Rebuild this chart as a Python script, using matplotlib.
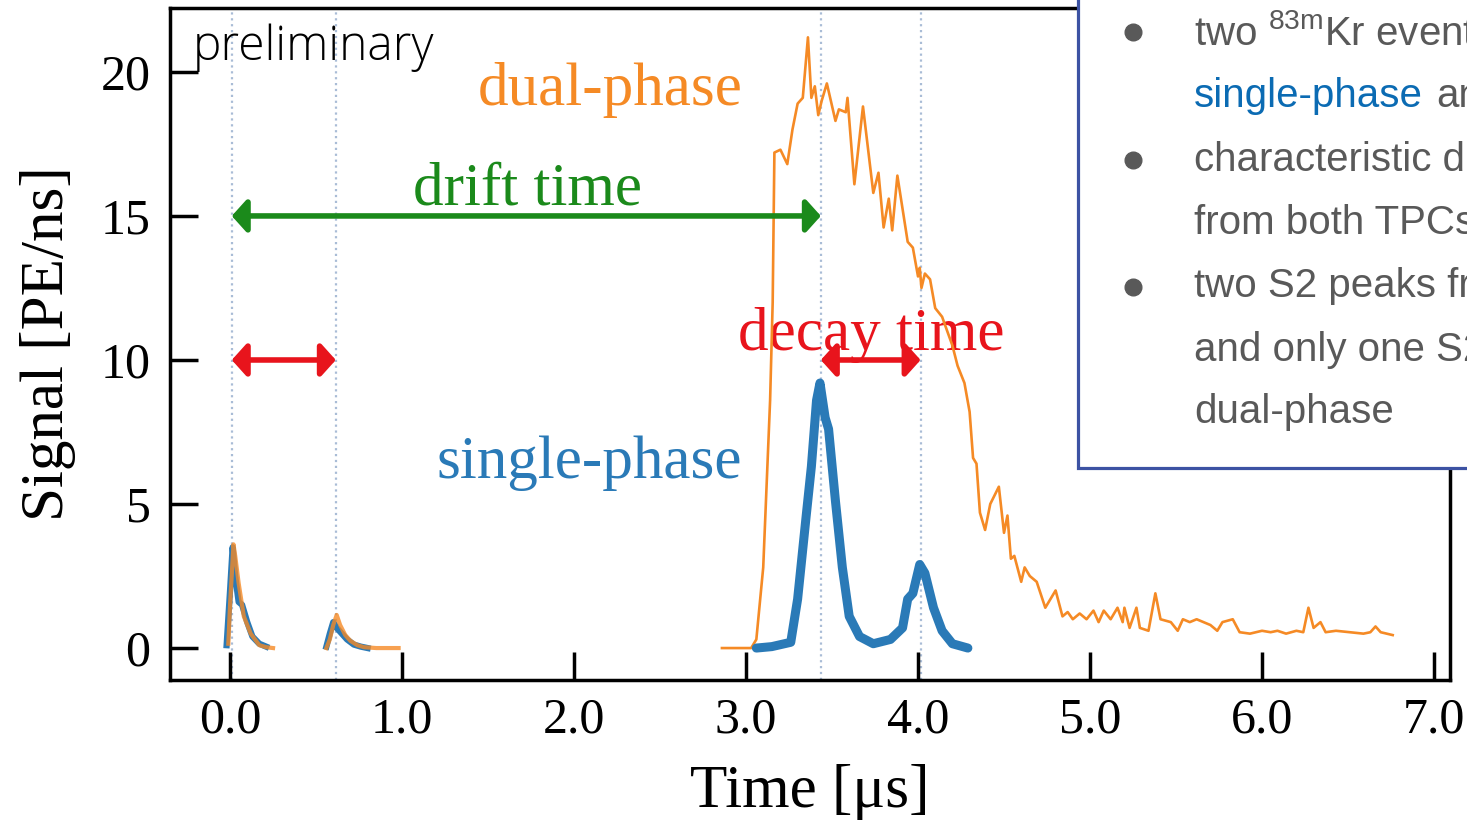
import numpy as np
import matplotlib
matplotlib.use("Agg")
import matplotlib.pyplot as plt
from matplotlib.patches import Rectangle
from matplotlib.lines import Line2D
from matplotlib.ticker import FormatStrFormatter

plt.rcParams['font.family'] = ['Liberation Serif', 'DejaVu Serif']

nan = np.nan

# S1 pulses (both detectors)
s1_blue_t = [-0.02, 0.0, 0.015, 0.03, 0.05, 0.07, 0.10, 0.13, 0.17, 0.21, nan,
             0.56, 0.58, 0.60, 0.62, 0.65, 0.68, 0.72, 0.76, 0.80]
s1_blue_v = [0.1, 2.0, 3.5, 2.5, 1.6, 1.5, 0.9, 0.4, 0.15, 0.05, nan,
             0.05, 0.5, 0.9, 0.7, 0.5, 0.3, 0.12, 0.05, 0.0]
s1_orange_t = [-0.01, 0.0, 0.02, 0.03, 0.05, 0.08, 0.12, 0.17, 0.21, 0.25, nan,
               0.56, 0.58, 0.60, 0.62, 0.64, 0.67, 0.70, 0.74, 0.78, 0.85, 0.98]
s1_orange_v = [0.15, 1.5, 3.6, 3.2, 2.25, 1.1, 0.5, 0.1, 0.03, 0.0, nan,
               0.0, 0.3, 0.8, 1.15, 0.8, 0.45, 0.25, 0.1, 0.03, 0.0, 0.0]

# S2 of single-phase TPC
s2_single_t = [3.06, 3.15, 3.26, 3.30, 3.35, 3.38, 3.41, 3.43, 3.46, 3.48, 3.52, 3.56, 3.60,
               3.66, 3.74, 3.84, 3.91, 3.94, 3.97, 4.01, 4.04, 4.09, 4.14, 4.20, 4.29]
s2_single_v = [0.0, 0.05, 0.2, 1.7, 4.6, 6.3, 8.6, 9.2, 8.0, 7.6, 5.1, 2.8, 1.1,
               0.4, 0.15, 0.3, 0.7, 1.7, 1.9, 2.9, 2.6, 1.4, 0.6, 0.15, 0.0]

# S2 of dual-phase TPC
s2_dual_t = [2.86, 3.03, 3.06, 3.10, 3.14, 3.155, 3.165, 3.20, 3.24, 3.27, 3.30, 3.33, 3.36,
             3.38, 3.40, 3.42, 3.44, 3.47, 3.52, 3.54, 3.58, 3.59, 3.63, 3.68, 3.74, 3.77,
             3.80, 3.83, 3.85, 3.88, 3.94, 3.97, 4.00, 4.01, 4.02, 4.04, 4.07, 4.10, 4.14,
             4.20, 4.23, 4.27, 4.30, 4.32, 4.34, 4.36, 4.39, 4.42, 4.47, 4.50, 4.52, 4.54,
             4.56, 4.60, 4.62, 4.65, 4.69, 4.74, 4.80, 4.84, 4.87, 4.90, 4.94, 4.98, 5.02,
             5.05, 5.08, 5.12, 5.16, 5.19, 5.20, 5.23, 5.27, 5.29, 5.34, 5.38, 5.41, 5.47,
             5.51, 5.54, 5.58, 5.62, 5.66, 5.70, 5.74, 5.77, 5.83, 5.87, 5.93, 6.00, 6.05,
             6.09, 6.14, 6.20, 6.24, 6.27, 6.30, 6.34, 6.37, 6.43, 6.51, 6.59, 6.63, 6.66,
             6.69, 6.76]
s2_dual_v = [0.0, 0.0, 0.3, 2.8, 8.6, 12.0, 17.2, 17.3, 16.8, 18.0, 18.9, 19.1, 21.2,
             19.1, 19.5, 18.5, 19.0, 19.6, 18.3, 18.7, 18.6, 19.1, 16.1, 18.8, 15.8, 16.5,
             14.6, 15.6, 14.5, 16.4, 14.1, 13.9, 12.9, 13.2, 12.5, 13.0, 12.8, 11.8, 11.5,
             10.5, 9.8, 9.2, 8.2, 6.6, 6.4, 4.7, 4.1, 5.0, 5.6, 4.0, 4.6, 3.1,
             3.2, 2.3, 2.8, 2.5, 2.3, 1.4, 2.0, 1.1, 1.25, 1.0, 1.2, 1.0, 1.3,
             0.9, 1.3, 1.0, 1.4, 0.9, 1.4, 0.7, 1.4, 0.7, 0.6, 1.9, 1.0, 0.9,
             0.6, 1.0, 0.9, 1.0, 0.9, 0.8, 0.6, 0.9, 1.0, 0.55, 0.5, 0.6, 0.55,
             0.6, 0.5, 0.6, 0.55, 1.4, 0.7, 0.9, 0.55, 0.6, 0.55, 0.5, 0.55, 0.75,
             0.55, 0.45]

peak_times = [0.01, 0.615, 3.435, 4.015]
xticks = [0, 1, 2, 3, 4, 5, 6, 7]
yticks = [0, 5, 10, 15, 20]

c_blue = '#2a7ab7'
c_orange = '#f58a25'
c_green = '#1b8a1b'
c_red = '#e8141c'

fig = plt.figure(figsize=(14.67, 8.21), dpi=100)
ax = fig.add_axes([0.1159, 0.1717, 0.8725, 0.8186])

for t in peak_times:
    ax.axvline(t, color='#a9bcd6', ls=':', lw=1.6, zorder=1)

ax.plot(s2_dual_t, s2_dual_v, color=c_orange, lw=1.9, zorder=3)
ax.plot(s2_single_t, s2_single_v, color=c_blue, lw=6.5, zorder=4, solid_capstyle='round')
ax.plot(s1_blue_t, s1_blue_v, color=c_blue, lw=4.5, zorder=3)
ax.plot(s1_orange_t, s1_orange_v, color=c_orange, lw=3, alpha=0.8, zorder=4)

arrow_style = '<|-|>,head_length=0.45,head_width=0.5'
ax.annotate('', xy=(peak_times[2], 15), xytext=(peak_times[0], 15),
            arrowprops=dict(arrowstyle=arrow_style, color=c_green, lw=4,
                            mutation_scale=20, shrinkA=0, shrinkB=0), zorder=5)
ax.annotate('', xy=(peak_times[1], 10), xytext=(peak_times[0], 10),
            arrowprops=dict(arrowstyle=arrow_style, color=c_red, lw=4,
                            mutation_scale=20, shrinkA=0, shrinkB=0), zorder=5)
ax.annotate('', xy=(peak_times[3], 10), xytext=(peak_times[2], 10),
            arrowprops=dict(arrowstyle=arrow_style, color=c_red, lw=4,
                            mutation_scale=20, shrinkA=0, shrinkB=0), zorder=5)

ax.text(2.21, 18.85, 'dual-phase', color=c_orange, fontsize=44, ha='center', va='baseline')
ax.text(1.73, 15.4, 'drift time', color=c_green, fontsize=44, ha='center', va='baseline')
ax.text(3.73, 10.35, 'decay time', color=c_red, fontsize=44, ha='center', va='baseline', zorder=2)
ax.text(2.09, 5.9, 'single-phase', color=c_blue, fontsize=44, ha='center', va='baseline')

ax.set_xlim(-0.349, 7.093)
ax.set_ylim(-1.11, 22.22)
ax.set_xticks(xticks)
ax.set_yticks(yticks)
ax.xaxis.set_major_formatter(FormatStrFormatter('%.1f'))
ax.tick_params(direction='in', length=20, width=2.5, labelsize=36)
ax.tick_params(axis='x', pad=12)
ax.tick_params(axis='y', pad=14)
for s in ax.spines.values():
    s.set_linewidth(2.5)
ax.set_xlabel('Time [μs]', fontsize=44, labelpad=15)
ax.set_ylabel('Signal [PE/ns]', fontsize=44, labelpad=18)

fig.text(193 / 1467, 1 - 60 / 821, 'preliminary', family=['Open Sans', 'DejaVu Sans'],
         fontweight='light', fontsize=34.5, ha='left', va='baseline')

# info box on the right (cut by the page edge, as in the slide)
box = Rectangle((1078 / 1467, 1 - 468 / 821), 0.4, 0.7, transform=fig.transFigure,
                facecolor='white', edgecolor='#3c52a3', lw=2.3, zorder=10)
fig.add_artist(box)

c_gray = '#595959'
box_font = ['Liberation Sans', 'DejaVu Sans']
lines = ['two $^{\\mathregular{83m}}$Kr events', None, 'characteristic drift',
         'from both TPCs', 'two S2 peaks from', 'and only one S2', 'dual-phase']
baselines = [45, 107, 171, 234, 297, 361, 423]
for txt, yb in zip(lines, baselines):
    if txt is None:
        fig.text(1194 / 1467, 1 - yb / 821, 'single-phase', color='#0b6bb3',
                 family=box_font, fontsize=29, ha='left', va='baseline', zorder=11)
        fig.text(1436 / 1467, 1 - yb / 821, 'and', color=c_gray,
                 family=box_font, fontsize=29, ha='left', va='baseline', zorder=11)
    else:
        fig.text(1194 / 1467, 1 - yb / 821, txt, color=c_gray, family=box_font,
                 fontsize=29, ha='left', va='baseline', zorder=11)
for yb in [32, 160, 287]:
    fig.add_artist(Line2D([1133 / 1467], [1 - yb / 821], marker='o', markersize=12,
                          color=c_gray, transform=fig.transFigure, zorder=11))

fig.savefig('out.png', dpi=100)
